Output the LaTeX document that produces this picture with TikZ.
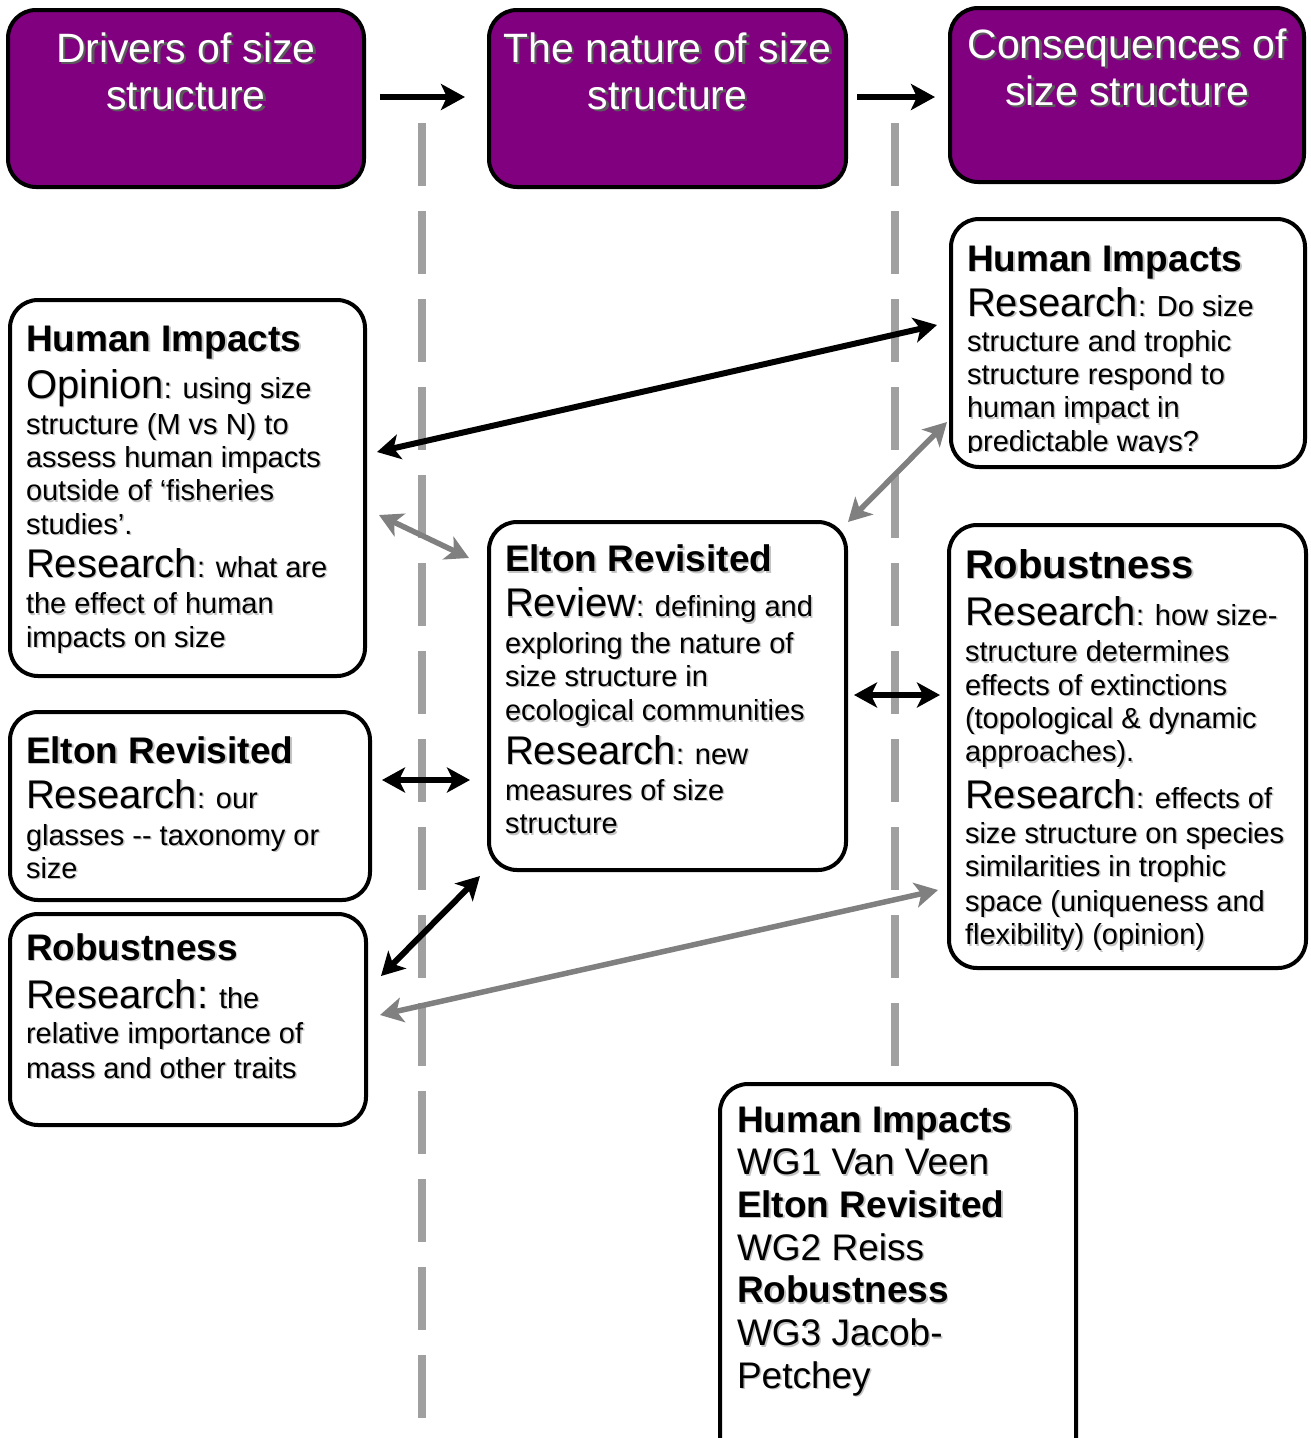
\documentclass[tikz,border=0pt]{standalone}
\usepackage{fontspec}
\setmainfont{Liberation Sans}
\usetikzlibrary{arrows.meta,calc}
\definecolor{purp}{HTML}{800080}
\definecolor{dashgray}{HTML}{A0A0A0}
\definecolor{arrgray}{HTML}{808080}
\definecolor{shblack}{HTML}{C4C4C4}
\definecolor{shwhite}{HTML}{5A5A5A}
\newcommand\ShLn[3]{\leavevmode\rlap{\kern#2\lower#2\hbox{\color{#1}#3}}#3}
\newcommand\Ln[1]{\ShLn{shblack}{1.5pt}{#1}}
\newcommand\TLn[1]{\ShLn{shwhite}{2.5pt}{#1}}
\newcommand\HeadT[1]{{\fontsize{37}{33.35}\selectfont\bfseries #1}}
\newcommand\BigW[1]{{\fontsize{40}{33.35}\selectfont #1}}
\newcommand\TxtBlock[3]{\vtop{\hsize=400pt\parindent=0pt\parskip=0pt\lineskiplimit=-200pt\lineskip=0pt\raggedright\fontsize{#1}{#2}\selectfont\noindent #3\par}}
\newcommand\TitleBlock[1]{\vtop{\hsize=370pt\parindent=0pt\parskip=0pt\lineskiplimit=-200pt\lineskip=0pt\centering\fontsize{41}{47}\selectfont\noindent #1\par}}
\tikzset{
  mytip/.tip={Stealth[length=23pt,width=25pt,inset=6pt]},
  toptip/.tip={Stealth[length=24pt,width=26pt,inset=6pt]},
  pbox/.style={draw=black, fill=purp, line width=4pt, rounded corners=28pt, inner sep=0pt, outer sep=0pt, anchor=north west},
  wbox/.style={draw=black, fill=white, line width=4pt, rounded corners=28pt, inner sep=0pt, outer sep=0pt, anchor=north west},
  txt/.style={inner sep=0pt, outer sep=0pt, anchor=base west},
  ttl/.style={inner sep=0pt, outer sep=0pt, anchor=base, text=white},
  sepline/.style={draw=dashgray, line width=7.5pt, dash pattern=on 63pt off 25pt},
  toparr/.style={draw=black, line width=6.5pt, arrows={-toptip}},
  blkarr/.style={draw=black, line width=6pt, arrows={mytip-mytip}},
  grayarr/.style={draw=arrgray, line width=5.5pt, arrows={mytip-mytip}},
}
\begin{document}
\begin{tikzpicture}[x=1pt,y=-1pt]
\useasboundingbox (0,0) rectangle (1311,1438);
% separators
\draw[sepline] (422,123) -- (422,1418);
\draw[sepline] (895,123) -- (895,1066);
% header boxes
\node[pbox, minimum width=356pt, minimum height=177pt] (t1) at (8,10) {};
\node[pbox, minimum width=357pt, minimum height=177pt] (t2) at (489,10) {};
\node[pbox, minimum width=354pt, minimum height=174pt] (t3) at (950,8) {};
% white boxes
\node[wbox, minimum width=354pt, minimum height=248pt] (hr) at (951,219) {};
\node[wbox, minimum width=355pt, minimum height=376pt] (hl) at (10,300) {};
\node[wbox, minimum width=357pt, minimum height=348pt] (ce) at (489,522) {};
\node[wbox, minimum width=357pt, minimum height=443pt] (rr) at (949,525) {};
\node[wbox, minimum width=360pt, minimum height=188pt] (le) at (10,712) {};
\node[wbox, minimum width=356pt, minimum height=211pt] (lr) at (10,914) {};
\node[wbox, minimum width=356pt, minimum height=386pt] (bt) at (720,1084) {};
% header texts
\node[ttl] (t1t) at ($(t1.north)+(0,52)$) {\TitleBlock{\TLn{Drivers of size}\\\TLn{structure}}};
\node[ttl] (t2t) at ($(t2.north)+(0,52)$) {\TitleBlock{\TLn{The nature of size}\\\TLn{structure}}};
\node[ttl] (t3t) at ($(t3.north)+(0,50)$) {\TitleBlock{\TLn{Consequences of}\\\TLn{size structure}}};
% box texts
\node[txt] (hlt) at ($(hl.north west)+(16,51)$) {\TxtBlock{29}{33.35}{%
\Ln{\HeadT{Human Impacts}}\\[13.65pt]
\Ln{\BigW{Opinion}: using size}\\[2.65pt]
\Ln{structure (M vs N) to}\\
\Ln{assess human impacts}\\
\Ln{outside of ‘fisheries}\\
\Ln{studies’.}\\[10pt]
\Ln{\BigW{Research}: what are}\\[3pt]
\Ln{the effect of human}\\
\Ln{impacts on size}}};
\begin{scope}
\clip ($(hr.north west)+(2,2)$) rectangle ($(hr.south east)+(-2,-15)$);
\node[txt] (hrt) at ($(hr.north west)+(16,52)$) {\TxtBlock{29}{33.35}{%
\Ln{\HeadT{Human Impacts}}\\[11.65pt]
\Ln{\BigW{Research}: Do size}\\[1.65pt]
\Ln{structure and trophic}\\
\Ln{structure respond to}\\
\Ln{human impact in}\\
\Ln{predictable ways?}}};
\end{scope}
\node[txt] (cet) at ($(ce.north west)+(16,49.7)$) {\TxtBlock{29}{33.35}{%
\Ln{\HeadT{Elton Revisited}}\\[11.65pt]
\Ln{\BigW{Review}: defining and}\\[3pt]
\Ln{exploring the nature of}\\
\Ln{size structure in}\\[1pt]
\Ln{ecological communities}\\[10pt]
\Ln{\BigW{Research}: new}\\[3pt]
\Ln{measures of size}\\
\Ln{structure}}};
\node[txt] (rrt) at ($(rr.north west)+(16,53)$) {\TxtBlock{29}{33.35}{%
\Ln{{\fontsize{40}{33.35}\selectfont\bfseries Robustness}}\\[13.65pt]
\Ln{\BigW{Research}: how size-}\\[3.35pt]
\Ln{structure determines}\\
\Ln{effects of extinctions}\\
\Ln{(topological \& dynamic}\\
\Ln{approaches).}\\[13pt]
\Ln{\BigW{Research}: effects of}\\[1.65pt]
\Ln{size structure on species}\\
\Ln{similarities in trophic}\\[1.65pt]
\Ln{space (uniqueness and}\\
\Ln{flexibility) (opinion)}}};
\node[txt] (let) at ($(le.north west)+(16,51)$) {\TxtBlock{29}{33.35}{%
\Ln{\HeadT{Elton Revisited}}\\[11.65pt]
\Ln{\BigW{Research}: our}\\[3.65pt]
\Ln{glasses -{}- taxonomy or}\\
\Ln{size}}};
\node[txt] (lrt) at ($(lr.north west)+(16,46)$) {\TxtBlock{29}{33.35}{%
\Ln{\HeadT{Robustness}}\\[14.65pt]
\Ln{\BigW{Research:} the}\\[1.65pt]
\Ln{relative importance of}\\[1.65pt]
\Ln{mass and other traits}}};
\node[txt] (btt) at ($(bt.north west)+(17,48)$) {\TxtBlock{37}{42.7}{%
\Ln{\HeadT{Human Impacts}}\\
\Ln{WG1 Van Veen}\\
\Ln{\HeadT{Elton Revisited}}\\
\Ln{WG2 Reiss}\\
\Ln{\HeadT{Robustness}}\\
\Ln{WG3 Jacob-}\\
\Ln{Petchey}}};
% connectors
\draw[toparr] ($(t1.east)+(16,-1.5)$) -- ($(t2.west)+(-24,-1.5)$);
\draw[toparr] ($(t2.east)+(11,-1.5)$) -- ($(t3.west)+(-15,2)$);
\draw[blkarr] ($(hl.north east)+(12,152)$) -- ($(hr.north west)+(-14,106)$);
\draw[grayarr] ($(hl.north east)+(14,215)$) -- ($(ce.north west)+(-20,36)$);
\draw[grayarr] ($(ce.north east)+(2,0)$) -- ($(hr.north west)+(-4,203)$);
\draw[blkarr] ($(le.east)+(12,-26)$) -- ($(ce.west)+(-19,84)$);
\draw[blkarr] ($(ce.east)+(8,-1)$) -- ($(rr.west)+(-9,-51.5)$);
\draw[blkarr] ($(lr.north east)+(15,62)$) -- ($(ce.south west)+(-9,6)$);
\draw[grayarr] ($(lr.north east)+(14,101)$) -- ($(rr.south west)+(-11,-78)$);
\end{tikzpicture}
\end{document}
